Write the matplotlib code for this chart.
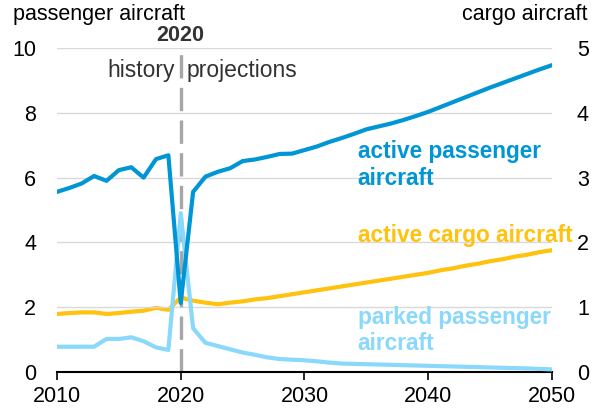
import matplotlib
matplotlib.use("Agg")
import matplotlib.pyplot as plt

plt.rcParams['font.family'] = ['Liberation Sans', 'DejaVu Sans']

years = list(range(2010, 2051))
active_passenger = [5.56, 5.68, 5.82, 6.05, 5.9, 6.23, 6.32, 6.0, 6.57, 6.69,
                    2.13, 5.56, 6.03, 6.18, 6.29, 6.51, 6.56, 6.64, 6.73, 6.74,
                    6.85, 6.96, 7.1, 7.22, 7.35, 7.49, 7.58, 7.67, 7.78, 7.9,
                    8.03, 8.18, 8.33, 8.48, 8.63, 8.78, 8.92, 9.06, 9.2, 9.34, 9.47]
parked_passenger = [0.78, 0.78, 0.78, 0.78, 1.02, 1.02, 1.07, 0.95, 0.76, 0.68,
                    4.9, 1.35, 0.9, 0.8, 0.7, 0.6, 0.53, 0.45, 0.4, 0.38,
                    0.36, 0.33, 0.29, 0.26, 0.25, 0.24, 0.23, 0.22, 0.21, 0.2,
                    0.19, 0.18, 0.17, 0.16, 0.15, 0.14, 0.13, 0.12, 0.11, 0.095, 0.08]
active_cargo = [0.895, 0.91, 0.92, 0.92, 0.895, 0.91, 0.93, 0.946, 0.99, 0.96,
                1.15, 1.1, 1.07, 1.045, 1.07, 1.09, 1.12, 1.14, 1.17, 1.2,
                1.23, 1.26, 1.29, 1.32, 1.35, 1.38, 1.41, 1.44, 1.47, 1.5,
                1.53, 1.57, 1.6, 1.64, 1.67, 1.71, 1.74, 1.78, 1.81, 1.85, 1.88]

left_ticks = [0, 2, 4, 6, 8, 10]
right_ticks = [0, 1, 2, 3, 4, 5]
x_ticks = [2010, 2020, 2030, 2040, 2050]

c_active = '#0096d6'
c_cargo = '#ffc20e'
c_parked = '#8ad8fb'
c_text = '#333333'
fs = 15.5

fig = plt.figure(figsize=(6.03, 4.09), dpi=100)
ax = fig.add_axes([0.0945, 0.0905, 0.8209, 0.7921])
ax2 = ax.twinx()

ax.set_xlim(2010, 2050)
ax.set_ylim(0, 10)
ax2.set_ylim(0, 5)

for t in left_ticks[1:]:
    ax.axhline(t, color='#d9d9d9', lw=1.0, zorder=0)

ax.axvline(2020, color='#a6a6a6', lw=2.4, dashes=(7.0, 2.8), zorder=1)

ax.plot(years, parked_passenger, color=c_parked, lw=3, zorder=3, solid_joinstyle='round')
ax.plot(years, active_passenger, color=c_active, lw=3, zorder=4, solid_joinstyle='round')
ax2.plot(years, active_cargo, color=c_cargo, lw=3, zorder=3, solid_joinstyle='round')
ax.set_zorder(ax2.get_zorder() + 1)
ax.patch.set_visible(False)

ax.set_xticks(x_ticks)
ax.set_yticks(left_ticks)
ax2.set_yticks(right_ticks)
ax.tick_params(axis='x', direction='out', length=6, width=1.2, labelsize=fs, pad=4, color='black')
ax.tick_params(axis='y', length=0, labelsize=fs, pad=15)
ax2.tick_params(axis='y', length=0, labelsize=fs, pad=18)

for a in (ax, ax2):
    for s in ('left', 'right', 'top', 'bottom'):
        a.spines[s].set_visible(False)
ax.spines['bottom'].set_visible(True)
ax.spines['bottom'].set_linewidth(1.5)
ax.spines['bottom'].set_color('black')

fig.text(0.022, 0.99, 'passenger aircraft', fontsize=fs, ha='left', va='top', color='black')
fig.text(0.974, 0.99, 'cargo aircraft', fontsize=fs, ha='right', va='top', color='black')

ax.text(2020, 10.05, '2020', fontsize=fs, fontweight='bold', ha='center', va='bottom', color=c_text)
ax.text(2019.5, 9.3, 'history', fontsize=16.5, ha='right', va='center', color=c_text)
ax.text(2020.5, 9.3, 'projections', fontsize=16.5, ha='left', va='center', color=c_text)

ax.text(2034.3, 7.15, 'active passenger\naircraft', fontsize=16.3, fontweight='bold',
        ha='left', va='top', color=c_active, linespacing=1.2)
ax.text(2034.3, 4.2, 'active cargo aircraft', fontsize=16.3, fontweight='bold',
        ha='left', va='center', color=c_cargo)
ax.text(2034.3, 2.05, 'parked passenger\naircraft', fontsize=16.3, fontweight='bold',
        ha='left', va='top', color=c_parked, linespacing=1.2)

fig.savefig('out.png', dpi=100)
